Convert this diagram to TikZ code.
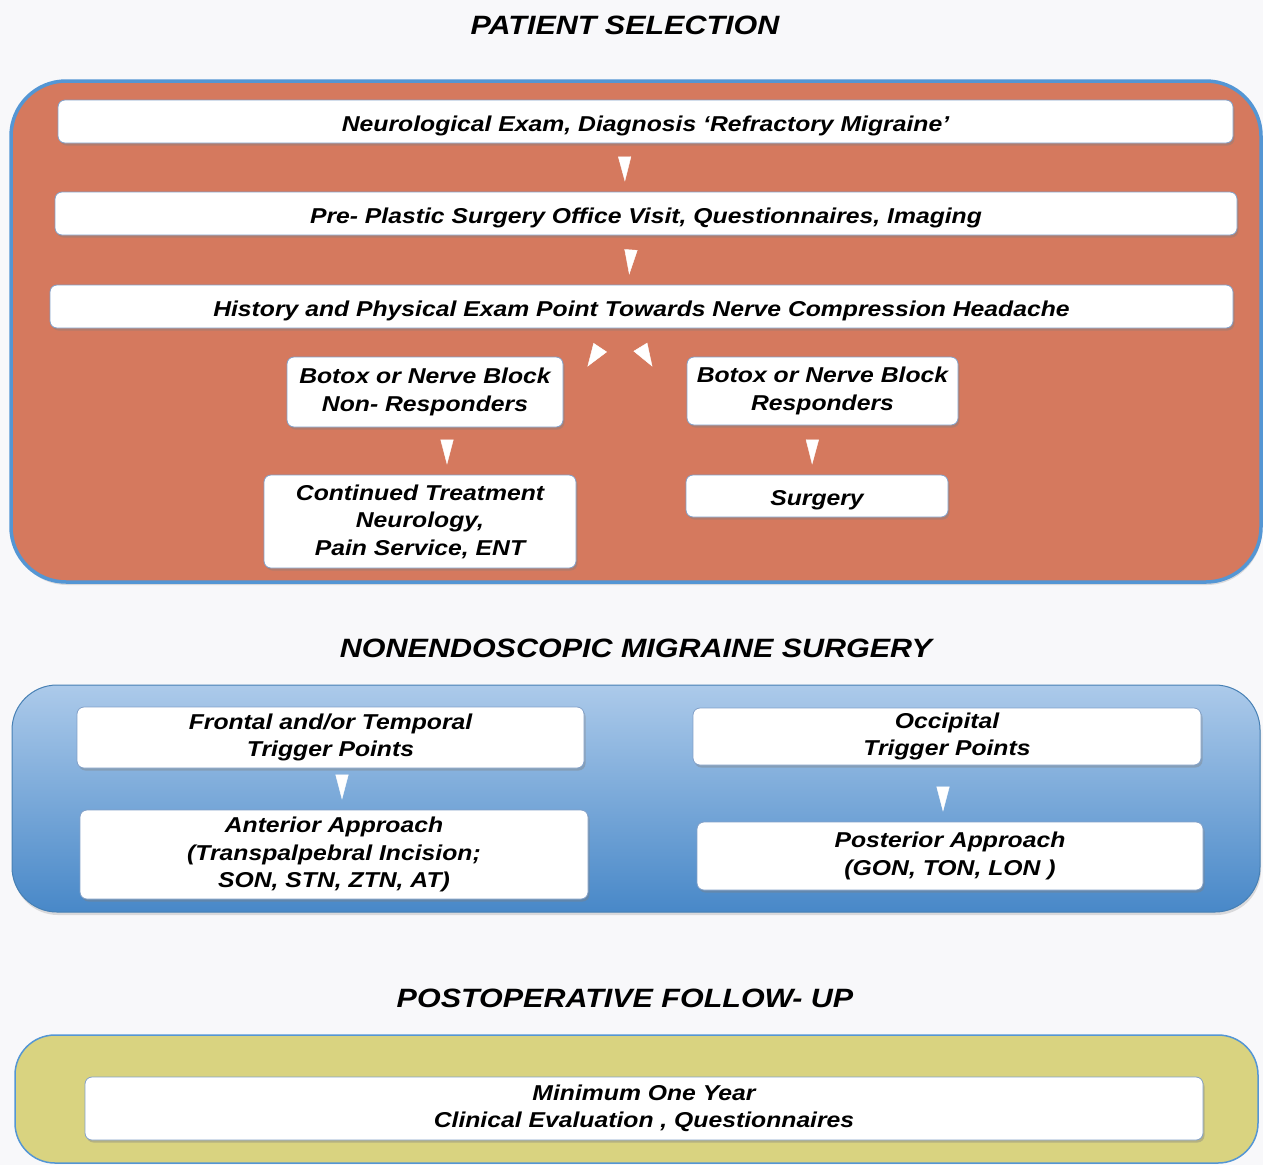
\documentclass[tikz,border=0pt]{standalone}
\usepackage{fontspec}
\setmainfont{Liberation Sans}
\newfontfamily\widesans[FakeStretch=1.15]{Liberation Sans}
\usetikzlibrary{positioning, arrows.meta, shadows, decorations.markings}

\definecolor{paper}{RGB}{248,248,250}
\definecolor{selorange}{RGB}{213,121,94}
\definecolor{selblue}{RGB}{84,150,212}
\definecolor{surgtop}{RGB}{172,202,234}
\definecolor{surgbot}{RGB}{72,136,200}
\definecolor{followyel}{RGB}{217,211,128}
\definecolor{boxline}{RGB}{130,160,200}

\newcommand{\flowfont}{\widesans\fontsize{21.5}{27.5}\selectfont\bfseries\itshape}
\newcommand{\bannerfont}{\widesans\fontsize{26.5}{32}\selectfont\bfseries\itshape}

\tikzset{
  stepbox/.style={draw=boxline, line width=.8pt, fill=white, rounded corners=7pt,
    align=center, inner sep=0pt, font=\flowfont,
    execute at begin node={\rule{0pt}{24pt}},
    drop shadow={shadow xshift=1.5pt, shadow yshift=-2.5pt, opacity=.4}},
  heading/.style={font=\bannerfont, inner sep=0pt},
  tri/.style={postaction={decorate}, decoration={markings,
    mark=at position -10pt with {\arrow{Triangle[length=25pt, width=13pt, color=white]}}}},
  slanttri/.style={postaction={decorate}, decoration={markings,
    mark=at position -10pt with {\arrow{Triangle[length=23pt, width=16pt, color=white]}}}},
}

\begin{document}
\begin{tikzpicture}[x=1pt, y=-1pt]
  \fill[paper] (0,0) rectangle (1263,1165);
  \useasboundingbox (0,0) rectangle (1263,1165);

  % panels
  \draw[selblue, line width=3.5pt, fill=selorange, rounded corners=55pt,
    drop shadow={shadow xshift=1pt, shadow yshift=-3pt, opacity=.25}]
    (11,81) rectangle (1261,582);
  \draw[selblue!85!black, line width=1pt, top color=surgtop, bottom color=surgbot,
    rounded corners=45pt, drop shadow={shadow xshift=1pt, shadow yshift=-3pt, opacity=.25}]
    (12,685) rectangle (1260,912);
  \draw[selblue, line width=1.5pt, fill=followyel, rounded corners=40pt]
    (15,1035) rectangle (1258,1163);

  % patient selection
  \node[heading] (titleSel) at (625,25) {PATIENT SELECTION};
  \node[stepbox, minimum width=1175pt, minimum height=43pt] (neuro) at (645.5,121.5)
    {Neurological Exam, Diagnosis ‘Refractory Migraine’};
  \node[stepbox, minimum width=1182pt, minimum height=43pt] (previsit) at (646,213.5)
    {Pre- Plastic Surgery Office Visit, Questionnaires, Imaging};
  \node[stepbox, minimum width=1183pt, minimum height=43pt] (hist) at (641.5,306.5)
    {History and Physical Exam Point Towards Nerve Compression Headache};
  \node[stepbox, minimum width=276pt, minimum height=70pt] (nonresp) at (425,392)
    {Botox or Nerve Block\\Non- Responders};
  \node[stepbox, minimum width=271pt, minimum height=68pt] (resp) at (822.5,391)
    {Botox or Nerve Block\\Responders};
  \node[stepbox, minimum width=312pt, minimum height=93pt] (contin) at (420,521.5)
    {Continued Treatment\\Neurology,\\Pain Service, ENT};
  \node[stepbox, minimum width=262pt, minimum height=42pt] (surgery) at (817,496)
    {Surgery};

  \path[tri] ([xshift=-21pt]neuro.south) -- ([xshift=-21pt]previsit.north);
  \path[tri] ([xshift=-14pt]previsit.south) -- ([xshift=-13pt]hist.north);
  \path[slanttri] ([xshift=-28.5pt]hist.south) -- ([shift={(18.5,18.3)}]nonresp.north east);
  \path[slanttri] ([xshift=-12.5pt]hist.south) -- ([shift={(-29,18.5)}]resp.north west);
  \path[tri] ([xshift=22pt]nonresp.south) -- ([xshift=27pt]contin.north);
  \path[tri] ([xshift=-10pt]resp.south) -- ([xshift=-5pt]surgery.north);

  % nonendoscopic surgery
  \node[heading] (titleSurg) at (636,648) {NONENDOSCOPIC MIGRAINE SURGERY};
  \node[stepbox, minimum width=507pt, minimum height=61pt] (frontal) at (330.5,737.5)
    {Frontal and/or Temporal\\Trigger Points};
  \node[stepbox, minimum width=508pt, minimum height=89pt] (anterior) at (334,854.5)
    {Anterior Approach\\(Transpalpebral Incision;\\SON, STN, ZTN, AT)};
  \node[stepbox, minimum width=508pt, minimum height=57pt] (occip) at (947,736.5)
    {Occipital\\Trigger Points};
  \node[stepbox, minimum width=506pt, minimum height=68pt] (posterior) at (950,856)
    {Posterior Approach\\(GON, TON, LON )};

  \path[tri] ([xshift=11.5pt]frontal.south) -- ([xshift=8pt]anterior.north);
  \path[tri] ([xshift=-4pt]occip.south) -- ([xshift=-7pt]posterior.north);

  % postoperative follow-up
  \node[heading] (titleFollow) at (625,998) {POSTOPERATIVE FOLLOW- UP};
  \node[stepbox, minimum width=1118pt, minimum height=63pt] (followup) at (644,1108.5)
    {Minimum One Year\\Clinical Evaluation , Questionnaires};
\end{tikzpicture}
\end{document}
